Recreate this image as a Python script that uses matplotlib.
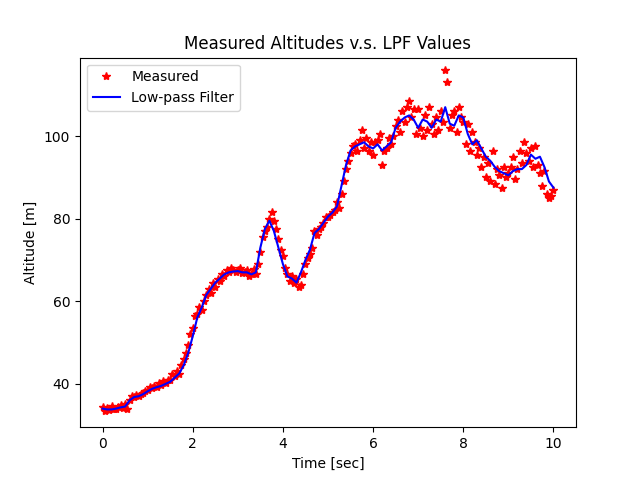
import numpy as np
import matplotlib
matplotlib.use('Agg')
import matplotlib.pyplot as plt

measured = [
    34.5, 33.5, 34.2, 33.7, 34.6, 34.0, 33.9, 34.3, 34.8, 34.1, 35.0, 34.0, 36.2, 37.0, 36.8, 37.2, 37.0, 37.5, 37.8, 38.3,
    38.6, 39.2, 39.0, 39.5, 39.3, 40.2, 39.8, 40.8, 40.3, 41.0, 41.0, 42.3, 41.8, 43.0, 42.5, 44.5, 46.0, 47.5, 49.5, 52.0,
    53.5, 56.5, 57.0, 58.5, 58.0, 60.0, 61.5, 63.0, 62.0, 64.5, 63.5, 65.5, 65.0, 66.5, 66.0, 67.5, 67.0, 68.0, 67.5, 67.0,
    67.5, 68.0, 66.8, 67.2, 67.5, 66.0, 66.5, 67.8, 66.5, 69.0, 72.0, 75.5, 77.0, 78.0, 80.0, 81.5, 79.5, 77.5, 75.0, 72.5,
    71.0, 68.0, 66.5, 65.0, 66.0, 64.5, 65.5, 63.5, 64.0, 66.5, 69.0, 70.5, 71.5, 73.0, 77.0, 76.0, 77.5, 78.0, 79.0, 80.5,
    80.5, 81.0, 81.5, 82.0, 84.0, 82.5, 86.0, 89.0, 92.0, 94.0, 96.0, 97.5, 98.0, 96.5, 99.0, 101.5, 97.0, 99.5, 96.5, 98.5,
    95.5, 98.5, 99.0, 100.5, 93.0, 96.5, 97.0, 99.5, 98.0, 100.0, 102.5, 104.0, 101.0, 106.0, 103.5, 107.0, 108.5, 104.5, 106.5, 100.5,
    106.5, 102.0, 100.0, 105.0, 101.5, 107.0, 103.0, 100.5, 104.5, 101.5, 106.0, 103.5, 116.0, 113.0, 102.0, 105.0, 106.0, 101.0, 107.0, 104.5,
    103.5, 98.0, 103.0, 96.5, 101.0, 98.5, 95.5, 97.0, 92.5, 95.0, 90.0, 93.5, 89.0, 96.5, 88.5, 92.0, 90.5, 87.5, 92.5, 90.0,
    91.0, 92.5, 95.0, 89.5, 92.0, 96.5, 93.5, 98.5, 96.0, 94.0, 97.0, 92.5, 97.5, 93.0, 91.0, 88.0, 91.5, 86.0, 85.0, 85.5, 87.0,
]

# low-pass filter output, every 0.1 s
filtered = [
    34.0, 33.8, 33.8, 34.0, 34.3, 34.5, 36.0, 36.8, 37.0, 37.5,
    38.2, 38.8, 39.2, 39.5, 40.0, 40.5, 41.5, 42.5, 44.5, 47.5,
    51.5, 56.0, 58.5, 61.5, 63.0, 64.5, 65.5, 66.5, 67.0, 67.2,
    67.3, 67.0, 67.0, 66.5, 67.0, 73.0, 77.5, 79.5, 77.0, 73.0,
    69.0, 66.0, 65.5, 64.5, 67.0, 70.0, 72.5, 76.5, 77.5, 79.0,
    80.5, 81.5, 83.0, 88.0, 93.0, 96.5, 97.5, 98.0, 98.5, 97.5,
    97.0, 98.0, 96.5, 97.5, 98.5, 102.0, 103.5, 104.5, 105.0, 104.0,
    102.0, 104.0, 103.5, 102.0, 104.0, 103.5, 107.0, 103.0, 102.5, 105.0,
    104.5, 100.5, 98.0, 99.0, 97.0, 95.0, 94.0, 92.5, 91.5, 91.0,
    90.5, 91.5, 92.0, 92.0, 93.0, 95.5, 94.5, 95.0, 92.5, 89.0,
    87.5,
]

t_meas = np.linspace(0, 10, len(measured))
t_filt = np.linspace(0, 10, len(filtered))

fig, ax = plt.subplots(figsize=(6.4, 4.8), dpi=100)
ax.plot(t_meas, measured, 'r*', label='Measured')
ax.plot(t_filt, filtered, 'b-', label='Low-pass Filter')
ax.set_xlabel('Time [sec]')
ax.set_ylabel('Altitude [m]')
ax.set_title('Measured Altitudes v.s. LPF Values')
ax.set_ylim(29.5, 119)
ax.set_yticks([40, 60, 80, 100])
ax.legend(loc='upper left')

plt.savefig('out.png')
